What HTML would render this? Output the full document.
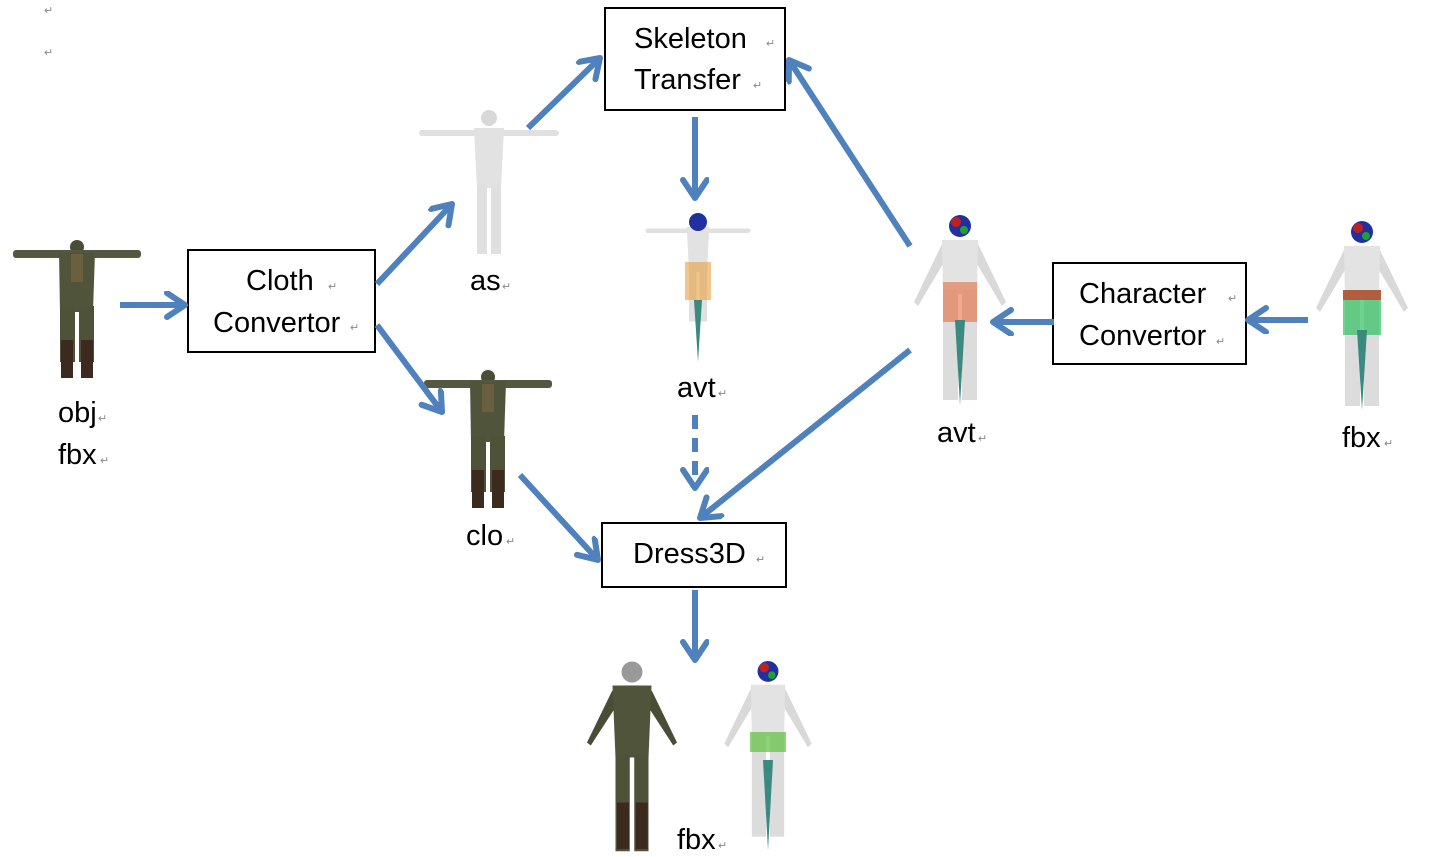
<!DOCTYPE html>
<html><head><meta charset="utf-8"><style>
body{margin:0;background:#fff}
svg{display:block}
text{font-family:"Liberation Sans",Arial,sans-serif;fill:#000}
.lbl{font-size:29px}
.pm{font-size:11px;fill:#888}
</style></head><body>
<svg width="1432" height="857" viewBox="0 0 1432 857" xmlns="http://www.w3.org/2000/svg">
<defs>
<marker id="ah" markerUnits="userSpaceOnUse" markerWidth="34" markerHeight="34" refX="22" refY="14" orient="auto">
<path d="M4,2 L22,14 L4,26" fill="none" stroke="#4f81bd" stroke-width="6" stroke-linecap="round" stroke-linejoin="round"/>
</marker>
<g id="tsuit">
<circle cx="0" cy="7" r="7" fill="#4a4d36"/>
<rect x="-64" y="10" width="128" height="8" rx="3" fill="#545840"/>
<path d="M-18 12 L18 12 L16 72 L-17 72 Z" fill="#50543b"/>
<rect x="-6" y="14" width="12" height="28" fill="#6a6040"/>
<rect x="-17" y="66" width="15" height="56" fill="#4e5239"/>
<rect x="2" y="66" width="15" height="56" fill="#4e5239"/>
<rect x="-16" y="100" width="12" height="38" fill="#3c2a1e"/>
<rect x="4" y="100" width="12" height="38" fill="#3c2a1e"/>
</g>
<g id="tgray">
<circle cx="0" cy="10" r="8" fill="#d8d8d8"/>
<rect x="-70" y="22" width="140" height="6" rx="3" fill="#e0e0e0"/>
<path d="M-15 20 L15 20 L12 80 L-12 80 Z" fill="#e2e2e2"/>
<rect x="-12" y="76" width="10" height="70" fill="#e0e0e0"/>
<rect x="2" y="76" width="10" height="70" fill="#e0e0e0"/>
</g>
<g id="abody">
<path d="M-18 30 L-46 88 L-42 92 L-14 45 Z M18 30 L46 88 L42 92 L14 45 Z" fill="#d9d9d9"/>
<path d="M-18 26 L18 26 L17 80 L-17 80 Z" fill="#e3e3e3"/>
<rect x="-17" y="76" width="15" height="110" fill="#dcdcdc"/>
<rect x="2" y="76" width="15" height="110" fill="#dcdcdc"/>
<circle cx="0" cy="12" r="11" fill="#2030a0"/>
<circle cx="-4" cy="8" r="5" fill="#c02020"/>
<circle cx="4" cy="16" r="4" fill="#20a030"/>
</g>
</defs>

<rect x="605" y="8" width="180" height="102" fill="#fff" stroke="#000" stroke-width="2"/>
<text class="lbl" x="634" y="48">Skeleton</text><text class="pm" x="766" y="47">↵</text>
<text class="lbl" x="634" y="89">Transfer</text><text class="pm" x="753" y="89">↵</text>

<rect x="188" y="250" width="187" height="102" fill="#fff" stroke="#000" stroke-width="2"/>
<text class="lbl" x="246" y="290">Cloth</text><text class="pm" x="328" y="290">↵</text>
<text class="lbl" x="213" y="332">Convertor</text><text class="pm" x="350" y="331">↵</text>

<rect x="1053" y="263" width="193" height="101" fill="#fff" stroke="#000" stroke-width="2"/>
<text class="lbl" x="1079" y="303">Character</text><text class="pm" x="1228" y="302">↵</text>
<text class="lbl" x="1079" y="345">Convertor</text><text class="pm" x="1216" y="345">↵</text>

<rect x="602" y="523" width="184" height="64" fill="#fff" stroke="#000" stroke-width="2"/>
<text class="lbl" x="633" y="563">Dress3D</text><text class="pm" x="756" y="563">↵</text>

<use href="#tsuit" x="77" y="240"/>
<use href="#tgray" x="489" y="108"/>
<use href="#tsuit" x="488" y="370"/>
<g transform="translate(698,212) scale(0.75)"><use href="#tgray" x="0" y="0"/></g>
<rect x="685" y="262" width="26" height="38" fill="#e8a040" opacity="0.6"/>
<path d="M694 300 L702 300 L698 362 Z" fill="#3a8a80"/>
<circle cx="698" cy="222" r="9" fill="#2030a0"/>
<use href="#abody" x="960" y="214"/>
<rect x="943" y="282" width="34" height="40" fill="#e86030" opacity="0.55"/>
<path d="M955 320 L965 320 L960 405 Z" fill="#3a8a80"/>
<use href="#abody" x="1362" y="220"/>
<rect x="1343" y="290" width="38" height="45" fill="#30c060" opacity="0.7"/>
<rect x="1343" y="290" width="38" height="10" fill="#d03020" opacity="0.7"/>
<path d="M1357 330 L1367 330 L1362 410 Z" fill="#3a8a80"/>
<g transform="translate(632,660) scale(0.75)">
<path d="M-26 40 L-60 110 L-55 114 L-20 60 Z M26 40 L60 110 L55 114 L20 60 Z" fill="#4a4d36"/>
<path d="M-26 34 L26 34 L22 130 L-22 130 Z" fill="#50543b"/>
<rect x="-22" y="125" width="19" height="130" fill="#4e5239"/><rect x="3" y="125" width="19" height="130" fill="#4e5239"/>
<rect x="-20" y="190" width="16" height="62" fill="#3c2a1e"/><rect x="5" y="190" width="16" height="62" fill="#3c2a1e"/>
<circle cx="0" cy="16" r="14" fill="#999"/>
</g>
<g transform="translate(768,660) scale(0.95)"><use href="#abody" x="0" y="0"/></g>
<rect x="750" y="732" width="36" height="20" fill="#60c040" opacity="0.7"/>
<path d="M763 760 L773 760 L768 850 Z" fill="#3a8a80"/>

<text class="lbl" x="58" y="422">obj</text><text class="pm" x="98" y="422">↵</text>
<text class="lbl" x="58" y="464">fbx</text><text class="pm" x="100" y="464">↵</text>
<text class="lbl" x="470" y="290">as</text><text class="pm" x="502" y="290">↵</text>
<text class="lbl" x="677" y="397">avt</text><text class="pm" x="718" y="397">↵</text>
<text class="lbl" x="937" y="442">avt</text><text class="pm" x="978" y="442">↵</text>
<text class="lbl" x="1342" y="447">fbx</text><text class="pm" x="1384" y="447">↵</text>
<text class="lbl" x="466" y="545">clo</text><text class="pm" x="506" y="545">↵</text>
<text class="lbl" x="677" y="849">fbx</text><text class="pm" x="718" y="849">↵</text>
<text class="pm" x="44" y="14">↵</text><text class="pm" x="44" y="56">↵</text>

<g stroke="#4f81bd" stroke-width="6" fill="none" marker-end="url(#ah)">
<line x1="120" y1="305" x2="185" y2="305"/>
<line x1="377" y1="284" x2="452" y2="204"/>
<line x1="377" y1="325" x2="442" y2="412"/>
<line x1="528" y1="128" x2="600" y2="58"/>
<line x1="695" y1="117" x2="695" y2="198"/>
<line x1="695" y1="415" x2="695" y2="488" stroke-dasharray="14,9"/>
<line x1="910" y1="246" x2="789" y2="60"/>
<line x1="910" y1="350" x2="700" y2="518"/>
<line x1="520" y1="475" x2="598" y2="560"/>
<line x1="1054" y1="322" x2="993" y2="322"/>
<line x1="1308" y1="320" x2="1248" y2="320"/>
<line x1="695" y1="590" x2="695" y2="660"/>
</g>
</svg>
</body></html>
